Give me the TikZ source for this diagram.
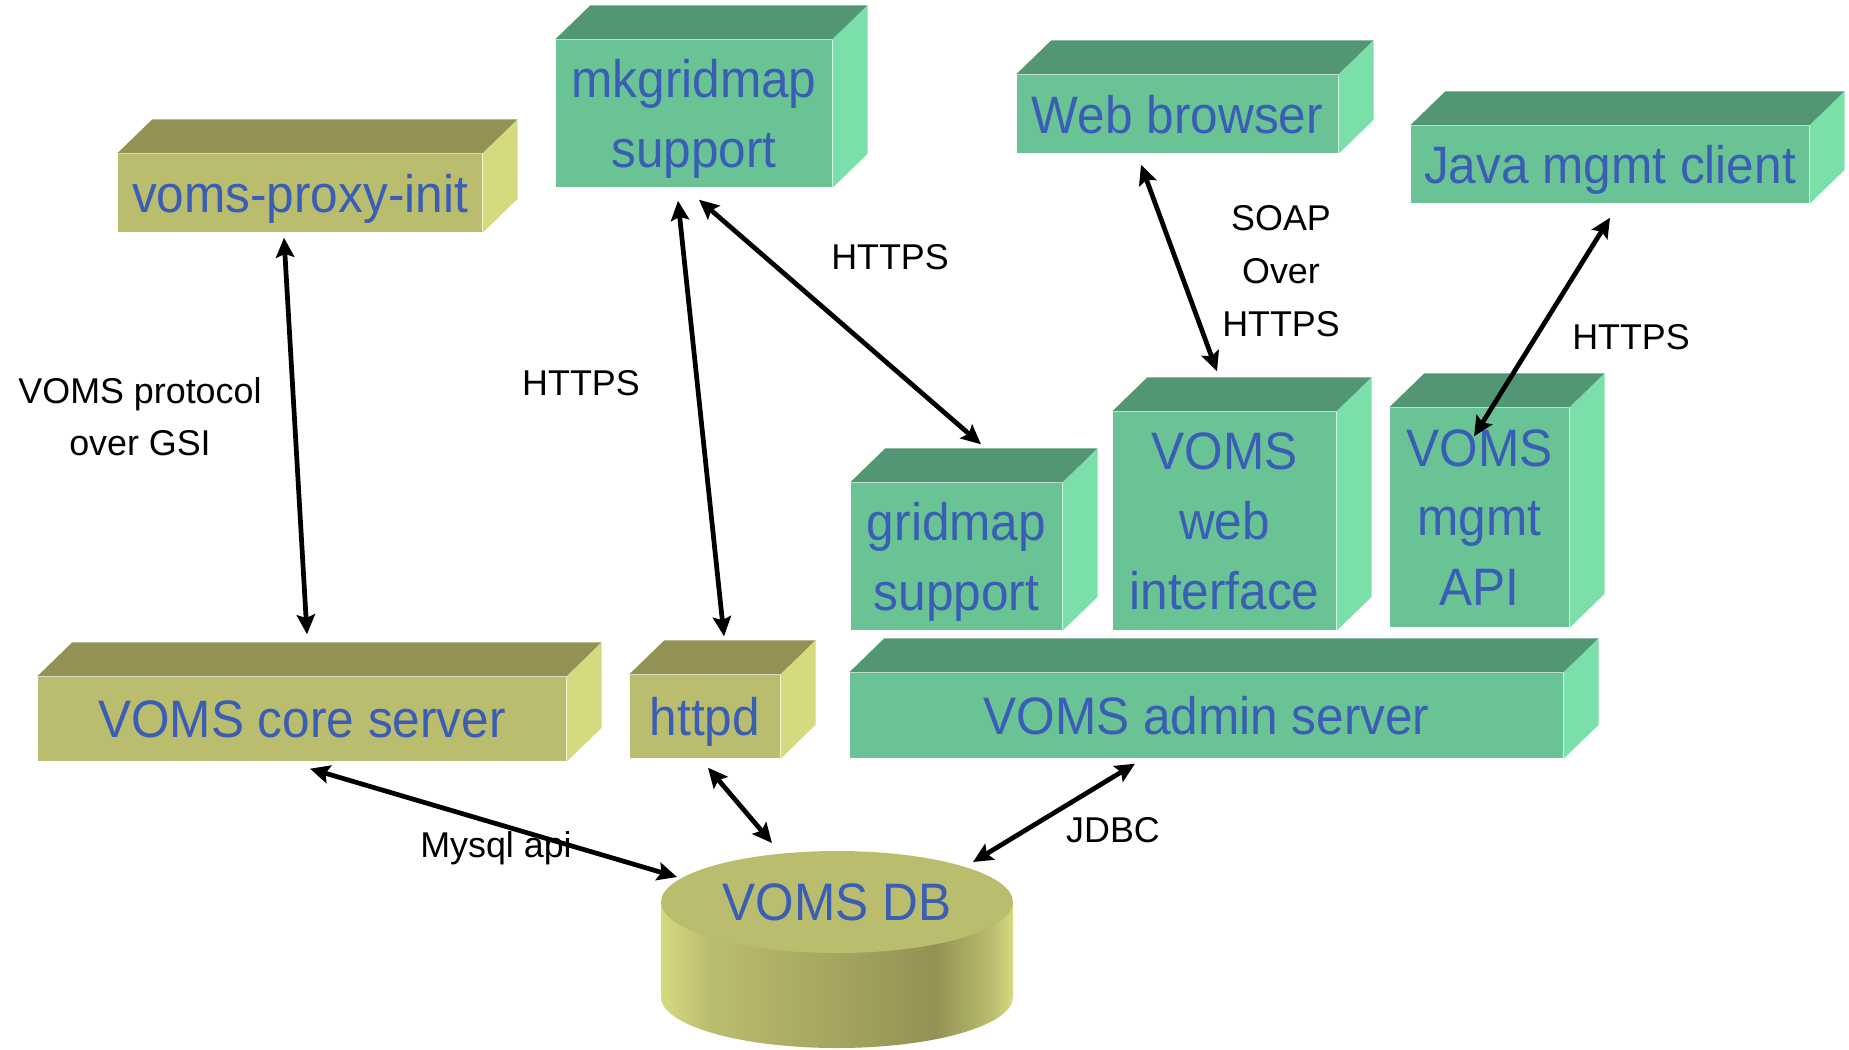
\documentclass[tikz,border=0pt]{standalone}
\usepackage{fontspec}
\setmainfont{Liberation Sans}
\newfontfamily\boxfont[FakeStretch=0.94]{Liberation Sans}
\newfontfamily\lblfont{Liberation Sans}
\usepackage{tikz}
\usetikzlibrary{arrows.meta, shapes.geometric}

\definecolor{olfront}{RGB}{187, 189, 110}
\definecolor{oltop}{RGB}{147, 146, 84}
\definecolor{olright}{RGB}{214, 218, 126}
\definecolor{grfront}{RGB}{105, 195, 148}
\definecolor{grtop}{RGB}{83, 150, 116}
\definecolor{grright}{RGB}{122, 223, 169}
\definecolor{voblue}{RGB}{58, 93, 181}

\pgfdeclarehorizontalshading{dbside}{100bp}{color(0bp)=(olright); color(25bp)=(olright); color(32bp)=(olfront); color(64bp)=(oltop); color(72bp)=(olfront); color(75bp)=(olright); color(100bp)=(olright)}

\newcommand{\cubedx}{0.35cm}
\newcommand{\cubedy}{0.34cm}
% top and right faces of a box node
\newcommand{\cubesides}[3]{%
  \fill[#2] (#1.north west) -- ([xshift=\cubedx,yshift=\cubedy]#1.north west) -- ([xshift=\cubedx,yshift=\cubedy]#1.north east) -- (#1.north east) -- cycle;
  \fill[#3] (#1.north east) -- ([xshift=\cubedx,yshift=\cubedy]#1.north east) -- ([xshift=\cubedx,yshift=\cubedy]#1.south east) -- (#1.south east) -- cycle;}

\tikzset{
  face/.style={rectangle, inner sep=0pt, align=center, text depth=0pt, text=voblue, font=\boxfont\fontsize{15}{19.8}\selectfont},
  olivebox/.style={face, fill=olfront},
  greenbox/.style={face, fill=grfront},
  link/.style={line width=1.35pt, {Stealth[length=5.6pt,width=5.2pt,inset=1pt]}-{Stealth[length=5.6pt,width=5.2pt,inset=1pt]}},
  lbl/.style={align=center, text depth=0pt, text=black, font=\lblfont\fontsize{10.2}{15}\selectfont}
}

\begin{document}
\begin{tikzpicture}
  \useasboundingbox (0,0) rectangle (18.49,-10.50);

  % Clients
  \node[olivebox, minimum width=3.64cm, minimum height=0.78cm] (proxy) at (3.00,-1.93) {voms-proxy-init};
  \cubesides{proxy}{oltop}{olright}
  \node[greenbox, minimum width=2.76cm, minimum height=1.47cm] (mkgrid) at (6.94,-1.135) {mkgridmap\\support};
  \cubesides{mkgrid}{grtop}{grright}
  \node[greenbox, minimum width=3.21cm, minimum height=0.78cm] (browser) at (11.775,-1.14) {Web browser};
  \cubesides{browser}{grtop}{grright}
  \node[greenbox, minimum width=3.98cm, minimum height=0.77cm] (java) at (16.10,-1.645) {Java mgmt client};
  \cubesides{java}{grtop}{grright}

  % Admin services
  \node[greenbox, minimum width=2.11cm, minimum height=1.47cm] (gridmap) at (9.565,-5.565) {gridmap\\support};
  \cubesides{gridmap}{grtop}{grright}
  \node[greenbox, minimum width=2.23cm, minimum height=2.18cm] (webif) at (12.245,-5.21) {VOMS\\web\\interface};
  \cubesides{webif}{grtop}{grright}
  \node[greenbox, minimum width=1.79cm, minimum height=2.19cm] (mgmtapi) at (14.795,-5.175) {VOMS\\mgmt\\API};
  \cubesides{mgmtapi}{grtop}{grright}

  % Servers
  \node[olivebox, minimum width=5.28cm, minimum height=0.84cm] (core) at (3.02,-7.19) {VOMS core server};
  \cubesides{core}{oltop}{olright}
  \node[olivebox, minimum width=1.50cm, minimum height=0.83cm] (httpd) at (7.05,-7.165) {httpd};
  \cubesides{httpd}{oltop}{olright}
  \node[greenbox, minimum width=7.13cm, minimum height=0.85cm] (admin) at (12.065,-7.155) {VOMS admin server};
  \cubesides{admin}{grtop}{grright}

  % Database
  \shade[shading=dbside] (6.61,-9.02) -- (6.61,-9.97) arc[start angle=180, end angle=360, x radius=1.76, y radius=0.51] -- (10.13,-9.02) -- cycle;
  \node[face, ellipse, fill=olfront, minimum width=3.52cm, minimum height=1.02cm] (db) at (8.37,-9.02) {VOMS DB};

  % Protocol labels
  \node[lbl] (lblgsi) at (1.40,-4.165) {VOMS protocol\\over GSI};
  \node[lbl] (lblhttpsa) at (5.81,-3.83) {HTTPS};
  \node[lbl] (lblhttpsb) at (8.90,-2.57) {HTTPS};
  \node[lbl] (lblsoap) at (12.81,-2.71) {SOAP\\Over\\HTTPS};
  \node[lbl] (lblhttpsc) at (16.31,-3.37) {HTTPS};
  \node[lbl] (lblmysql) at (4.96,-8.45) {Mysql api};
  \node[lbl] (lbljdbc) at (11.13,-8.30) {JDBC};

  % Connections
  \draw[link] ([shift={(-0.16,-0.05)}]proxy.south) -- ([shift={(0.05,0.42)}]core.north);
  \draw[link] ([shift={(-0.16,-0.13)}]mkgrid.south) -- ([shift={(0.19,0.38)}]httpd.north);
  \draw[link] ([shift={(0.05,-0.12)}]mkgrid.south) -- ([shift={(0.245,0.38)}]gridmap.north);
  \draw[link] ([shift={(-0.365,-0.11)}]browser.south) -- ([shift={(-0.075,0.40)}]webif.north);
  \draw[link] ([shift={(0,-0.14)}]java.south) -- ([shift={(-0.055,-0.29)}]mgmtapi.north);
  \draw[link] ([shift={(0.08,-0.07)}]core.south) -- ([shift={(-1.60,0.25)}]db.center);
  \draw[link] ([shift={(0.03,-0.09)}]httpd.south) -- ([shift={(-0.65,0.59)}]db.center);
  \draw[link] ([shift={(-0.715,-0.05)}]admin.south) -- ([shift={(1.36,0.40)}]db.center);
\end{tikzpicture}
\end{document}
